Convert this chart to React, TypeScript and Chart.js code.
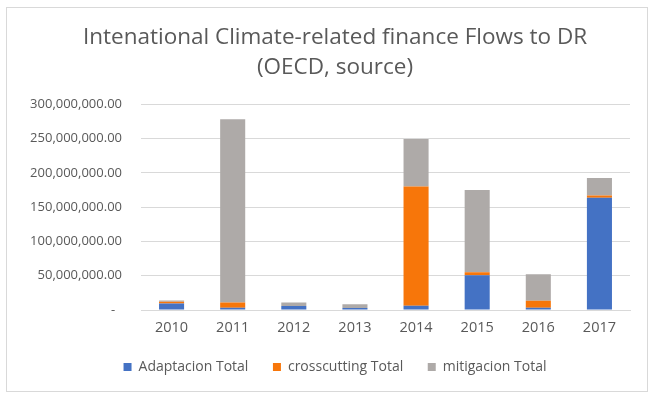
import React, { useEffect, useRef } from "react";
import { Chart, registerables } from "chart.js";

Chart.register(...registerables);

const years = ["2010", "2011", "2012", "2013", "2014", "2015", "2016", "2017"];
const adaptacion = [9500000, 3300000, 5800000, 2900000, 6200000, 50700000, 3300000, 163800000];
const crosscutting = [2500000, 7700000, 0, 0, 174000000, 4300000, 10200000, 3200000];
const mitigacion = [2000000, 267000000, 5200000, 5400000, 69000000, 120000000, 38500000, 25300000];
const seriesNames = ["Adaptacion Total", "crosscutting Total", "mitigacion Total"];
const titleLines = ["Intenational Climate-related finance Flows to DR", "(OECD, source)"];

const FONT = "'Open Sans', sans-serif";
const TEXT = "#595959";

export default function App() {
  const ref = useRef<HTMLCanvasElement>(null);
  useEffect(() => {
    if (!ref.current) return;
    const chart = new Chart(ref.current, {
      type: "bar",
      data: {
        labels: years,
        datasets: [
          { label: seriesNames[0], data: adaptacion, backgroundColor: "#4472C4" },
          { label: seriesNames[1], data: crosscutting, backgroundColor: "#F7760A" },
          { label: seriesNames[2], data: mitigacion, backgroundColor: "#AEAAA8" },
        ],
      },
      options: {
        responsive: false,
        animation: false,
        layout: { padding: { left: 16, right: 0, top: 0, bottom: 7 } },
        datasets: { bar: { categoryPercentage: 1, barPercentage: 0.41 } },
        plugins: {
          title: {
            display: true,
            text: titleLines,
            color: TEXT,
            font: { family: FONT, size: 22.5, weight: "normal", lineHeight: 1.35 },
            padding: { top: 14, bottom: 21.5 },
          },
          legend: {
            position: "bottom",
            labels: {
              color: TEXT,
              font: { family: FONT, size: 14 },
              boxWidth: 8,
              boxHeight: 8,
              padding: 10,
              generateLabels: (c: any) => {
                const items = Chart.defaults.plugins.legend.labels.generateLabels(c);
                return items.map((it: any, i: number) => ({
                  ...it,
                  text: i < items.length - 1 ? it.text + "    " : it.text,
                }));
              },
            },
          },
          tooltip: { enabled: false },
        },
        scales: {
          x: {
            stacked: true,
            grid: { display: false, drawTicks: false },
            border: { display: true, color: "#d9d9d9" },
            ticks: { color: TEXT, font: { family: FONT, size: 14.5 }, padding: 9 },
            afterFit: (s: any) => { s.height = 40; },
          },
          y: {
            stacked: true,
            min: 0,
            max: 300000000,
            grid: { color: "#d9d9d9", drawTicks: false },
            border: { display: false },
            afterFit: (s: any) => { s.width = 118; },
            ticks: {
              stepSize: 50000000,
              color: TEXT,
              padding: 19,
              font: { family: FONT, size: 13 },
              callback: (v: any) =>
                Number(v) === 0
                  ? "-  "
                  : Number(v).toLocaleString("en-US", { minimumFractionDigits: 2, maximumFractionDigits: 2 }),
            },
          },
          y2: {
            position: "right",
            display: true,
            grid: { display: false, drawTicks: false },
            border: { display: false },
            ticks: { display: false },
            afterFit: (s: any) => { s.width = 17; },
          },
        },
      },
    });
    return () => chart.destroy();
  }, []);
  return (
    <div
      style={{
        position: "fixed",
        left: 6,
        top: 7,
        width: 642,
        height: 385,
        border: "1px solid #d9d9d9",
        boxSizing: "border-box",
        background: "#fff",
      }}
    >
      <canvas ref={ref} width={640} height={383} style={{ display: "block" }} />
    </div>
  );
}
